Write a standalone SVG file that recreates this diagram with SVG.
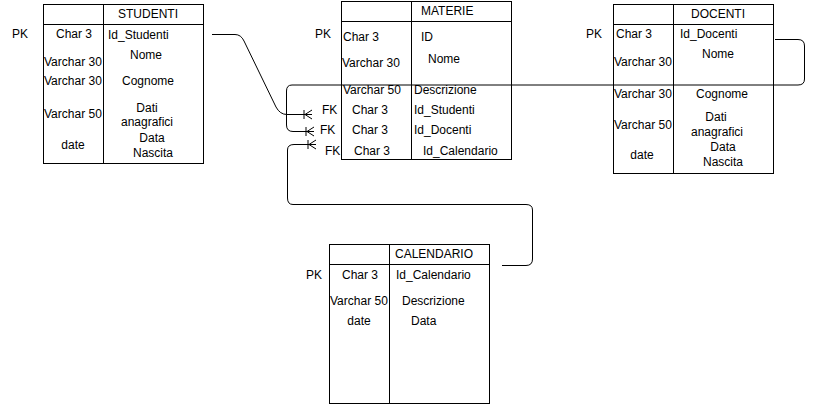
<svg xmlns="http://www.w3.org/2000/svg" width="813" height="405" viewBox="0 0 813 405">
<defs>
<style>
text{font-family:"Liberation Sans",Arial,sans-serif;font-size:12px;fill:#000}
.m{text-anchor:middle}
.box{fill:#fff;stroke:#000;stroke-width:1}
.ln{fill:none;stroke:#000;stroke-width:1}
.cn{fill:none;stroke:#000;stroke-width:1}
</style>
<marker id="many" markerUnits="userSpaceOnUse" markerWidth="12" markerHeight="12" viewBox="-9 -6 12 12" refX="0" refY="0" orient="auto" overflow="visible">
<path d="M-8,-4.5 L-8,4.5 M-7,0 L0,-4.5 M-7,0 L0,4.5" fill="none" stroke="#000" stroke-width="1"/>
</marker>
</defs>
<rect width="813" height="405" fill="#fff"/>

<g id="studenti">
<rect class="box" x="43.5" y="4.5" width="160" height="159"/>
<path class="ln" d="M43.5,24.5 H203.5 M103.5,4.5 V163.5"/>
<text x="118" y="18">STUDENTI</text>
<text x="12" y="38">PK</text>
<text class="m" x="74" y="38">Char 3</text>
<text x="108" y="39">Id_Studenti</text>
<text x="44" y="66">Varchar 30</text>
<text class="m" x="146" y="59">Nome</text>
<text x="44" y="85">Varchar 30</text>
<text class="m" x="148" y="85">Cognome</text>
<text x="44" y="118">Varchar 50</text>
<text class="m" x="147" y="112">Dati</text>
<text class="m" x="147" y="126">anagrafici</text>
<text class="m" x="73" y="149">date</text>
<text class="m" x="152" y="142">Data</text>
<text class="m" x="153" y="157">Nascita</text>
</g>

<g id="materie">
<rect class="box" x="341.5" y="1.5" width="170" height="158"/>
<path class="ln" d="M341.5,21.5 H511.5 M411.5,1.5 V159.5"/>
<text x="421" y="15">MATERIE</text>
<text x="315" y="38">PK</text>
<text x="343" y="41">Char 3</text>
<text x="421" y="41">ID</text>
<text x="342" y="67">Varchar 30</text>
<text x="428" y="63">Nome</text>
<text x="343" y="94">Varchar 50</text>
<text x="414" y="94">Descrizione</text>
<text x="322" y="114">FK</text>
<text x="352" y="114">Char 3</text>
<text x="414" y="114">Id_Studenti</text>
<text x="320" y="134">FK</text>
<text x="352" y="134">Char 3</text>
<text x="414" y="134">Id_Docenti</text>
<text x="325" y="155">FK</text>
<text x="354" y="155">Char 3</text>
<text x="423" y="155">Id_Calendario</text>
</g>

<g id="docenti">
<rect class="box" x="613.5" y="4.5" width="160" height="169"/>
<path class="ln" d="M613.5,24.5 H773.5 M673.5,4.5 V173.5"/>
<text x="691" y="18">DOCENTI</text>
<text x="586" y="38">PK</text>
<text x="616" y="38">Char 3</text>
<text x="680" y="38">Id_Docenti</text>
<text x="614" y="66">Varchar 30</text>
<text class="m" x="718" y="58">Nome</text>
<text x="614" y="98">Varchar 30</text>
<text class="m" x="722" y="98">Cognome</text>
<text x="614" y="129">Varchar 50</text>
<text class="m" x="716" y="121">Dati</text>
<text class="m" x="717" y="136">anagrafici</text>
<text class="m" x="642" y="159">date</text>
<text class="m" x="723" y="151">Data</text>
<text class="m" x="723" y="166">Nascita</text>
</g>

<g id="calendario">
<rect class="box" x="329.5" y="244.5" width="160" height="159"/>
<path class="ln" d="M329.5,264.5 H489.5 M389.5,244.5 V403.5"/>
<text x="395" y="258">CALENDARIO</text>
<text x="306" y="279">PK</text>
<text x="342" y="279">Char 3</text>
<text x="396" y="279">Id_Calendario</text>
<text x="330" y="305">Varchar 50</text>
<text x="402" y="305">Descrizione</text>
<text class="m" x="359" y="325">date</text>
<text x="411" y="325">Data</text>
</g>

<g id="connectors">
<path class="cn" d="M212,34.5 L235,34.5 Q241,34.5 244,41 L276,107 Q280,114.5 287,114.5 L312,114.5" marker-end="url(#many)"/>
<path class="cn" d="M775,39.5 L798,39.5 Q804.5,39.5 804.5,46 L804.5,79 Q804.5,85 798,85 L292,85 Q286.5,85 286.5,91 L286.5,125 Q286.5,131.5 293,131.5 L314,131.5" marker-end="url(#many)"/>
<path class="cn" d="M502,265.5 L526,265.5 Q532.5,265.5 532.5,259 L532.5,210 Q532.5,204.5 526,204.5 L293,204.5 Q287.5,204.5 287.5,198 L287.5,150 Q287.5,144.5 294,144.5 L316,144.5" marker-end="url(#many)"/>
</g>
</svg>
